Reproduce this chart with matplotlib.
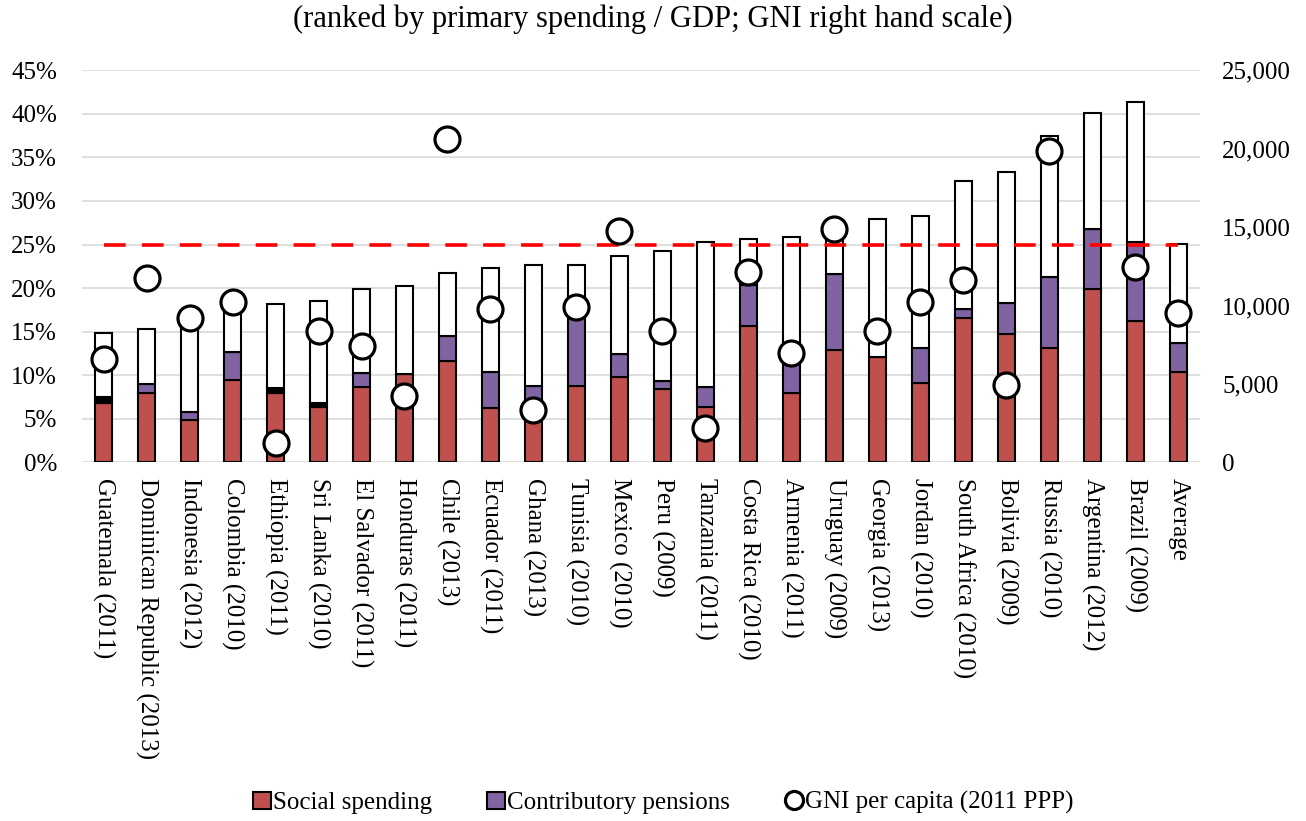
import numpy as np
import matplotlib
matplotlib.use('Agg')
import matplotlib.pyplot as plt
from matplotlib.patches import Patch
from matplotlib.lines import Line2D

# countries ranked by primary spending / GDP
labels = ['Guatemala (2011)', 'Dominican Republic (2013)', 'Indonesia (2012)', 'Colombia (2010)',
          'Ethiopia (2011)', 'Sri Lanka (2010)', 'El Salvador (2011)', 'Honduras (2011)',
          'Chile (2013)', 'Ecuador (2011)', 'Ghana (2013)', 'Tunisia (2010)', 'Mexico (2010)',
          'Peru (2009)', 'Tanzania (2011)', 'Costa Rica (2010)', 'Armenia (2011)', 'Uruguay (2009)',
          'Georgia (2013)', 'Jordan (2010)', 'South Africa (2010)', 'Bolivia (2009)', 'Russia (2010)',
          'Argentina (2012)', 'Brazil (2009)', 'Average']

# % of GDP
social = [6.8, 8.0, 4.9, 9.5, 8.0, 6.4, 8.6, 10.1, 11.6, 6.2, 7.2, 8.8, 9.8,
          8.4, 6.3, 15.6, 7.9, 12.9, 12.1, 9.1, 16.6, 14.7, 13.1, 19.9, 16.2, 10.4]
pensions = [0.0, 0.95, 0.85, 3.2, 0.0, 0.0, 1.7, 0.0, 2.9, 4.2, 1.55, 8.2, 2.6,
            0.9, 2.35, 4.75, 3.6, 8.75, 0.0, 4.0, 1.0, 3.55, 8.2, 6.85, 9.05, 3.35]
other = [0.7, 0.0, 0.0, 0.0, 0.5, 0.4, 0.0, 0.0, 0.0, 0.0, 0.0, 0.0, 0.0,
         0.0, 0.0, 0.0, 0.0, 0.0, 0.0, 0.0, 0.0, 0.0, 0.0, 0.0, 0.0, 0.0]
primary = [14.8, 15.3, 16.5, 18.4, 18.2, 18.5, 19.9, 20.2, 21.7, 22.3, 22.6, 22.7, 23.7,
           24.2, 25.3, 25.6, 25.9, 26.5, 27.9, 28.3, 32.3, 33.3, 37.5, 40.1, 41.4, 25.1]

# GNI per capita, 2011 PPP (right scale)
gni = [6600, 11750, 9200, 10250, 1200, 8350, 7400, 4250, 20600, 9800, 3350, 9900, 14750,
       8350, 2200, 12150, 7000, 14900, 8400, 10200, 11650, 4900, 19850, np.nan, 12450, 9550]

threshold = 25.0


def main():
    plt.rcParams['font.family'] = ['Liberation Serif', 'DejaVu Serif']

    x = np.arange(len(labels))
    soc = np.array(social) / 100
    pen = np.array(pensions) / 100
    oth = np.array(other) / 100
    tot = np.array(primary) / 100
    rest = tot - soc - pen - oth

    fig = plt.figure(figsize=(13.06, 8.21), dpi=100)
    ax = fig.add_axes([0.0628, 0.4369, 0.856, 0.4775])
    ax2 = ax.twinx()

    w = 0.4
    kw = dict(width=w, edgecolor='black', linewidth=1.5, zorder=3)
    ax.bar(x, soc, color='#C0504D', **kw)
    ax.bar(x, pen, bottom=soc, color='#8064A2', **kw)
    ax.bar(x, oth, bottom=soc + pen, color='black', **kw)
    ax.bar(x, rest, bottom=soc + pen + oth, color='white', **kw)

    ax.plot([x[0], x[-1]], [threshold / 100] * 2, color='#FF0000', linewidth=2.6,
            dashes=(6, 4.5), zorder=4)

    ax2.plot(x, gni, linestyle='none', marker='o', markersize=18, markerfacecolor='white',
             markeredgecolor='black', markeredgewidth=2.3, zorder=5)

    ax.set_xlim(-0.5, len(labels) - 0.5)
    ax.set_ylim(0, 0.45)
    ax.set_yticks(np.arange(0, 0.451, 0.05))
    ax.set_yticklabels(['%d%%' % v for v in range(0, 46, 5)])
    ax2.set_ylim(0, 25000)
    ax2.set_yticks(range(0, 25001, 5000))
    ax2.set_yticklabels(['{:,}'.format(v) for v in range(0, 25001, 5000)])

    ax.set_xticks(x)
    ax.set_xticklabels(labels, rotation=-90, ha='center', va='top')

    ax.grid(axis='y', color='#D9D9D9', linewidth=1.2, zorder=0)
    ax.set_axisbelow(True)
    for a in (ax, ax2):
        for s in a.spines.values():
            s.set_visible(False)
    ax.tick_params(axis='x', length=0, pad=11, labelsize=18)
    ax.tick_params(axis='y', length=0, pad=18, labelsize=18)
    ax2.tick_params(axis='y', length=0, pad=16, labelsize=18)

    fig.text(0.5, 0.976, '(ranked by primary spending / GDP; GNI right hand scale)',
             ha='center', va='center', fontsize=22)

    handles = [Patch(facecolor='#C0504D', edgecolor='black', linewidth=1.5),
               Patch(facecolor='#8064A2', edgecolor='black', linewidth=1.5),
               Line2D([], [], linestyle='none', marker='o', markersize=13, markerfacecolor='white',
                      markeredgecolor='black', markeredgewidth=2.3)]
    fig.legend(handles, ['Social spending', 'Contributory pensions', 'GNI per capita (2011 PPP)'],
               loc='center', bbox_to_anchor=(0.508, 0.022), ncol=3, frameon=False, fontsize=18,
               handlelength=0.7, handleheight=0.7, handletextpad=0.1, columnspacing=2.2)

    plt.savefig('out.png', dpi=100)
    plt.close()


if __name__ == '__main__':
    main()
